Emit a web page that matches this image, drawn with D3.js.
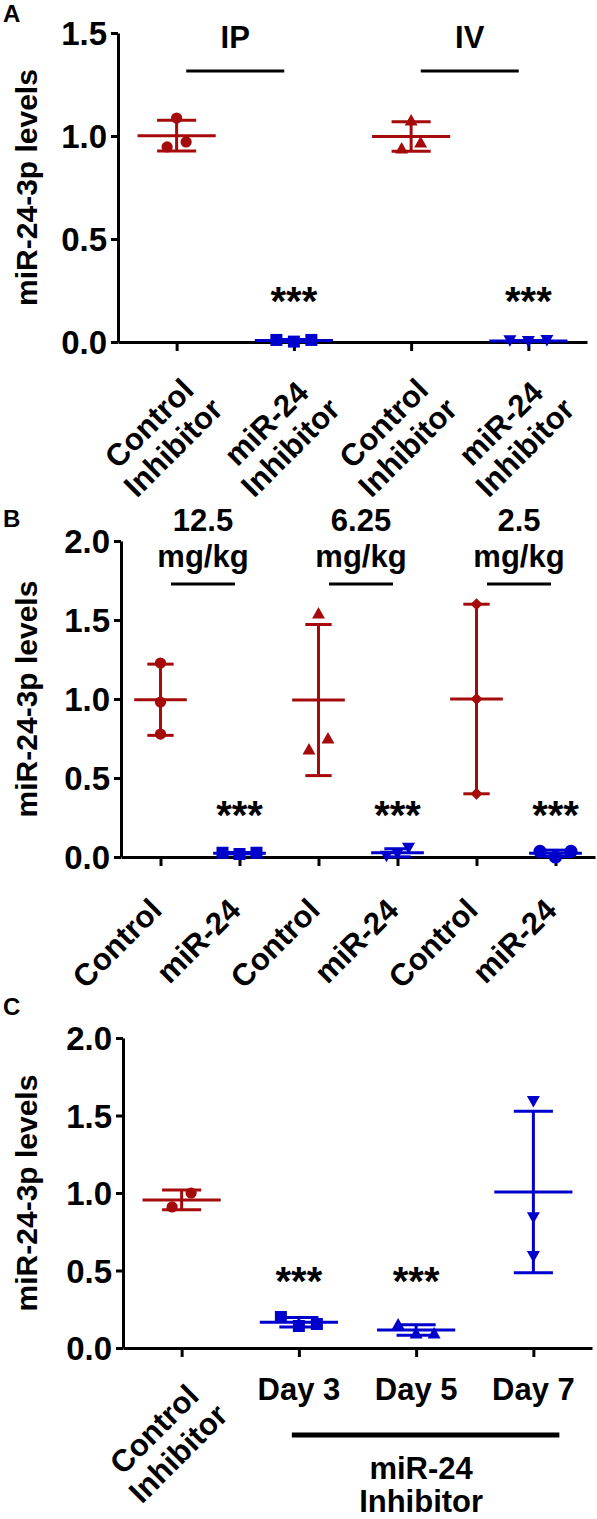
<!DOCTYPE html>
<html><head><meta charset="utf-8">
<script src="https://cdn.jsdelivr.net/npm/d3@7"></script>
<style>
body{margin:0;background:#fff}
svg{display:block}
text{font-family:"Liberation Sans",Arial,sans-serif;font-weight:bold;fill:#000}
</style>
</head><body>
<svg id="chart" width="597" height="1519"></svg>
<script>
// ---------- DATA ----------
// Panel A
const catsA = ["Control\nInhibitor", "miR-24\nInhibitor", "Control\nInhibitor", "miR-24\nInhibitor"];
const valsA = [[1.087, 0.947, 0.971], [0.010, 0.002, 0.010], [1.078, 0.942, 0.971], [0.006, 0.003, 0.007]];
const ticksA = [0, 0.5, 1.0, 1.5];
const headA = [["IP"], ["IV"]];
const sigA = ["", "***", "", "***"];
const sigYA = 0.243;

// Panel B
const catsB = ["Control", "miR-24", "Control", "miR-24", "Control", "miR-24"];
const valsB = [[1.228, 0.980, 0.778], [0.027, 0.019, 0.027], [1.544, 0.683, 0.753],
               [0.005, 0.020, 0.055], [1.600, 1.000, 0.400], [0.035, 0.000, 0.035]];
const ticksB = [0, 0.5, 1.0, 1.5, 2.0];
const headB = [["12.5", "mg/kg"], ["6.25", "mg/kg"], ["2.5", "mg/kg"]];
const sigB = ["", "***", "", "***", "", "***"];
const sigYB = 0.323;

// Panel C
const catsC = ["Control\nInhibitor", "Day 3", "Day 5", "Day 7"];
const valsC = [[0.910, 1.000], [0.200, 0.142, 0.155], [0.155, 0.097, 0.097], [1.590, 0.840, 0.590]];
const ticksC = [0, 0.5, 1.0, 1.5, 2.0];
const groupC = ["miR-24", "Inhibitor"];
const sigC = ["", "***", "***", ""];
const sigYC = 0.49;

const yTitle = "miR-24-3p levels";

// ---------- STYLE ----------
const RED = "#a50b0b", BLUE = "#0000cc";
const styleA = [
  {c: RED, m: "circle", spread: 19}, {c: BLUE, m: "square", spread: 17.5},
  {c: RED, m: "triangle", spread: 19}, {c: BLUE, m: "triangleDown", spread: 18.5}];
const styleB = [
  {c: RED, m: "circle", spread: 19}, {c: BLUE, m: "square", spread: 17},
  {c: RED, m: "triangle", spread: 19}, {c: BLUE, m: "triangleDown", spread: 11},
  {c: RED, m: "diamond", spread: 19}, {c: BLUE, m: "circleBig", spread: 15.5}];
const styleC = [
  {c: RED, m: "circle", spread: 19}, {c: BLUE, m: "square", spread: 18},
  {c: BLUE, m: "triangle", spread: 18}, {c: BLUE, m: "triangleDown", spread: 18}];

function markerPath(type) {
  switch (type) {
    case "circle": return d3.arc()({innerRadius: 0, outerRadius: 5.6, startAngle: 0, endAngle: 2 * Math.PI});
    case "circleBig": return d3.arc()({innerRadius: 0, outerRadius: 6.6, startAngle: 0, endAngle: 2 * Math.PI});
    case "square": return "M-6,-6H6V6H-6Z";
    case "triangle": return "M0,-6L6.5,5.5L-6.5,5.5Z";
    case "triangleDown": return "M0,6L6.5,-5.5L-6.5,-5.5Z";
    case "diamond": return "M0,-6L6,0L0,6L-6,0Z";
  }
}

const svg = d3.select("#chart");

function mean(a) { return d3.mean(a); }
function sd(a) { return a.length > 1 ? d3.deviation(a) : 0; }

// cluster-based horizontal offsets (Prism-like scatter)
function offsets(vals, y, spread) {
  const idx = vals.map((v, i) => i).sort((a, b) => vals[a] - vals[b]);
  const clusters = [];
  let cur = [idx[0]];
  for (let k = 1; k < idx.length; k++) {
    if (Math.abs(y(vals[idx[k]]) - y(vals[idx[k - 1]])) < 16) cur.push(idx[k]);
    else { clusters.push(cur); cur = [idx[k]]; }
  }
  clusters.push(cur);
  const off = vals.map(() => 0);
  clusters.forEach(cl => {
    const ordered = cl.slice().sort((a, b) => a - b);
    const n = ordered.length;
    ordered.forEach((i, j) => { off[i] = (j - (n - 1) / 2) * spread; });
  });
  return off;
}

function drawPanel(cfg) {
  const g = svg.append("g");
  const x = d3.scalePoint().domain(d3.range(cfg.cats.length)).range([cfg.left, cfg.right]).padding(0.5);
  const y = d3.scaleLinear().domain([0, cfg.ymax]).range([cfg.bottom, cfg.top]);
  const step = x.step();

  // y axis
  const ya = g.append("g").attr("transform", `translate(${cfg.left},0)`)
    .call(d3.axisLeft(y).tickValues(cfg.ticks).tickFormat(d3.format(".1f")).tickSize(7).tickSizeOuter(0).tickPadding(4));
  ya.select(".domain").attr("stroke", "#000").attr("stroke-width", 3);
  ya.selectAll(".tick line").attr("stroke", "#000").attr("stroke-width", 3);
  ya.selectAll(".tick text").attr("font-size", 33).attr("font-family", "Liberation Sans, Arial, sans-serif")
    .attr("font-weight", "bold").attr("fill", "#000").attr("dy", "0.36em");

  // x axis
  const xa = g.append("g").attr("transform", `translate(0,${cfg.bottom})`)
    .call(d3.axisBottom(x).tickFormat("").tickSize(9).tickSizeOuter(0));
  xa.select(".domain").attr("stroke", "#000").attr("stroke-width", 3);
  xa.selectAll(".tick line").attr("stroke", "#000").attr("stroke-width", 3);

  // y title
  g.append("text").attr("transform", `translate(37,${(cfg.top + cfg.bottom) / 2}) rotate(-90)`)
    .attr("text-anchor", "middle").attr("font-size", 30).text(yTitle);

  // panel letter
  g.append("text").attr("x", 3).attr("y", cfg.letterY).attr("font-size", 24).text(cfg.letter);

  // data
  cfg.vals.forEach((vals, i) => {
    const st = cfg.style[i];
    const cx = x(i);
    const m = mean(vals), s = sd(vals);
    const gg = g.append("g");
    const off = offsets(vals, y, st.spread);
    gg.selectAll("path.pt").data(vals).join("path").attr("class", "pt")
      .attr("d", markerPath(st.m)).attr("fill", st.c)
      .attr("transform", (v, j) => `translate(${cx + off[j]},${y(v)})`);
    const hw = step / 3, cw = step / 6;
    gg.append("line").attr("x1", cx - hw).attr("x2", cx + hw).attr("y1", y(m)).attr("y2", y(m))
      .attr("stroke", st.c).attr("stroke-width", 3);
    if (s > 0) {
      gg.append("line").attr("x1", cx).attr("x2", cx).attr("y1", y(m + s)).attr("y2", y(Math.max(m - s, 0)))
        .attr("stroke", st.c).attr("stroke-width", 3);
      [m + s, m - s].forEach(v => {
        if (v < 0) return;
        gg.append("line").attr("x1", cx - cw).attr("x2", cx + cw).attr("y1", y(v)).attr("y2", y(v))
          .attr("stroke", st.c).attr("stroke-width", 3);
      });
    }
    if (cfg.sig[i]) {
      g.append("text").attr("x", cx).attr("y", y(cfg.sigY) + 23).attr("text-anchor", "middle")
        .attr("font-size", 40).text(cfg.sig[i]);
    }
  });
  return {g, x, y};
}

function twoLineRotated(P, i, lines, axisY) {
  const t = P.g.append("text").attr("transform", `translate(${P.x(i) - 8},${axisY + 101}) rotate(-45)`)
    .attr("text-anchor", "middle").attr("font-size", 31);
  lines.forEach((l, j) => t.append("tspan").attr("x", 0).attr("y", -17 + 34 * j).text(l));
}

// ---------- PANEL A ----------
const A = drawPanel({letter: "A", letterY: 22, cats: catsA, vals: valsA, ticks: ticksA, ymax: 1.5,
  left: 118, right: 587, top: 33, bottom: 342, style: styleA, sig: sigA, sigY: sigYA});
headA.forEach((h, k) => {
  const mid = (A.x(2 * k) + A.x(2 * k + 1)) / 2;
  A.g.append("text").attr("x", mid).attr("y", 48).attr("text-anchor", "middle").attr("font-size", 31).text(h[0]);
  A.g.append("line").attr("x1", mid - 49).attr("x2", mid + 49).attr("y1", 71).attr("y2", 71)
    .attr("stroke", "#000").attr("stroke-width", 3);
});
catsA.forEach((c, i) => twoLineRotated(A, i, c.split("\n"), 342));

// ---------- PANEL B ----------
const B = drawPanel({letter: "B", letterY: 527, cats: catsB, vals: valsB, ticks: ticksB, ymax: 2,
  left: 121, right: 595, top: 541, bottom: 857, style: styleB, sig: sigB, sigY: sigYB});
headB.forEach((h, k) => {
  const mid = (B.x(2 * k) + B.x(2 * k + 1)) / 2 + 3;
  B.g.append("text").attr("x", mid).attr("y", 531).attr("text-anchor", "middle").attr("font-size", 31).text(h[0]);
  B.g.append("text").attr("x", mid).attr("y", 567).attr("text-anchor", "middle").attr("font-size", 31).text(h[1]);
  B.g.append("line").attr("x1", mid - 32).attr("x2", mid + 32).attr("y1", 584).attr("y2", 584)
    .attr("stroke", "#000").attr("stroke-width", 3);
});
catsB.forEach((c, i) => {
  B.g.append("text").attr("transform", `translate(${B.x(i) + 3},${857 + 55}) rotate(-45)`)
    .attr("text-anchor", "end").attr("font-size", 31).text(c);
});

// ---------- PANEL C ----------
const C = drawPanel({letter: "C", letterY: 1015, cats: catsC, vals: valsC, ticks: ticksC, ymax: 2,
  left: 123, right: 592, top: 1038, bottom: 1348, style: styleC, sig: sigC, sigY: sigYC});
catsC.forEach((c, i) => {
  const lines = c.split("\n");
  if (lines.length > 1) {
    twoLineRotated(C, i, lines, 1348);
  } else {
    C.g.append("text").attr("x", C.x(i)).attr("y", 1400).attr("text-anchor", "middle").attr("font-size", 31).text(c);
  }
});
{
  const x1 = C.x(1) - 7, x2 = C.x(3) + 26, mid = C.x(2) + 5;
  C.g.append("line").attr("x1", x1).attr("x2", x2).attr("y1", 1435).attr("y2", 1435)
    .attr("stroke", "#000").attr("stroke-width", 5);
  C.g.append("text").attr("x", mid).attr("y", 1479).attr("text-anchor", "middle").attr("font-size", 31).text(groupC[0]);
  C.g.append("text").attr("x", mid).attr("y", 1512).attr("text-anchor", "middle").attr("font-size", 31).text(groupC[1]);
}
</script>
</body></html>
